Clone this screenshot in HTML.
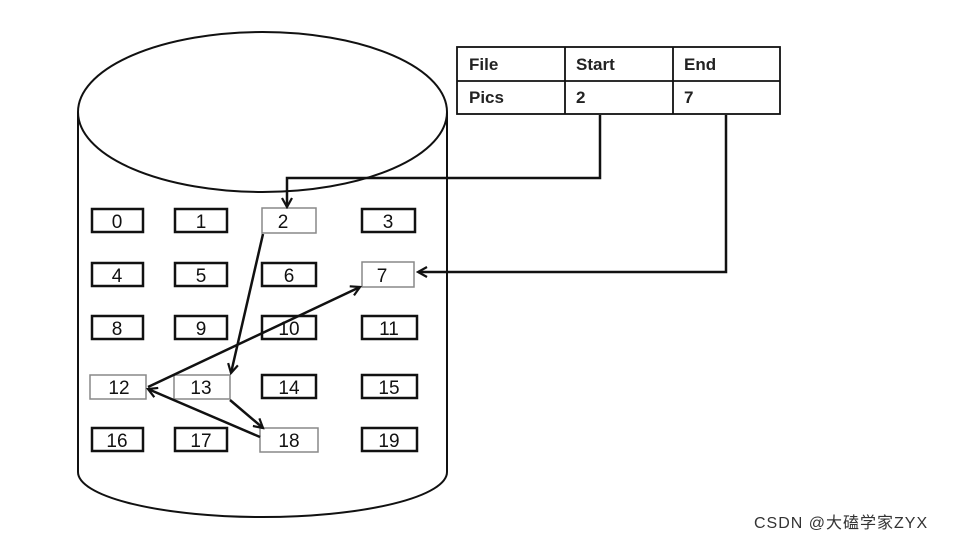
<!DOCTYPE html>
<html><head><style>body{margin:0;background:#fff}svg{display:block}</style></head><body>
<svg width="954" height="541" viewBox="0 0 954 541" xmlns="http://www.w3.org/2000/svg" font-family="Liberation Sans, sans-serif">
<defs><marker id="a" markerWidth="12" markerHeight="12" refX="10" refY="6" orient="auto" markerUnits="userSpaceOnUse"><path d="M1,1 L10,6 L1,11" fill="none" stroke="#111" stroke-width="2.2"/></marker></defs>
<g fill="none" stroke="#111" stroke-width="2">
<path d="M78,112 L78,472 A184.5,45 0 0 0 447,472 L447,112"/>
<ellipse cx="262.5" cy="112" rx="184.5" ry="80"/>
</g>
<g stroke="#111" stroke-width="2.5" fill="#fff">
<rect x="92" y="209" width="51" height="23"/><rect x="175" y="209" width="52" height="23"/><rect x="362" y="209" width="53" height="23"/>
<rect x="92" y="263" width="51" height="23"/><rect x="175" y="263" width="52" height="23"/><rect x="262" y="263" width="54" height="23"/>
<rect x="92" y="316" width="51" height="23"/><rect x="175" y="316" width="52" height="23"/><rect x="262" y="316" width="54" height="23"/><rect x="362" y="316" width="55" height="23"/>
<rect x="262" y="375" width="54" height="23"/><rect x="362" y="375" width="55" height="23"/>
<rect x="92" y="428" width="51" height="23"/><rect x="175" y="428" width="52" height="23"/><rect x="362" y="428" width="55" height="23"/>
</g>
<g stroke="#888" stroke-width="1.5" fill="#fff">
<rect x="262" y="208" width="54" height="25"/><rect x="362" y="262" width="52" height="25"/>
<rect x="90" y="375" width="56" height="24"/><rect x="174" y="375" width="56" height="24"/><rect x="260" y="428" width="58" height="24"/>
</g>
<g font-size="19" text-anchor="middle" fill="#111">
<text x="117" y="228">0</text><text x="201" y="228">1</text><text x="283" y="228">2</text><text x="388" y="228">3</text>
<text x="117" y="282">4</text><text x="201" y="282">5</text><text x="289" y="282">6</text><text x="382" y="282">7</text>
<text x="117" y="335">8</text><text x="201" y="335">9</text><text x="289" y="335">10</text><text x="389" y="335">11</text>
<text x="119" y="394">12</text><text x="201" y="394">13</text><text x="289" y="394">14</text><text x="389" y="394">15</text>
<text x="117" y="447">16</text><text x="201" y="447">17</text><text x="289" y="447">18</text><text x="389" y="447">19</text>
</g>
<g stroke="#111" stroke-width="1.8" fill="none">
<rect x="457" y="47" width="323" height="67"/>
<line x1="457" y1="81" x2="780" y2="81"/><line x1="565" y1="47" x2="565" y2="114"/><line x1="673" y1="47" x2="673" y2="114"/>
</g>
<g font-size="17" font-weight="bold" fill="#222">
<text x="469" y="70">File</text><text x="576" y="70">Start</text><text x="684" y="70">End</text>
<text x="469" y="103">Pics</text><text x="576" y="103">2</text><text x="684" y="103">7</text>
</g>
<g stroke="#111" stroke-width="2.5" fill="none" marker-end="url(#a)">
<path d="M600,115 L600,178 L287,178 L287,207"/>
<path d="M726,115 L726,272 L418,272"/>
<path d="M263,234 L231,373"/>
<path d="M148,387 L360,287"/>
<path d="M230,400 L263,428"/>
<path d="M260,437 L148,389"/>
</g>
<text x="754" y="528" font-size="16" letter-spacing="1" fill="#333" font-family="Liberation Sans, Noto Sans CJK SC, sans-serif">CSDN @大磕学家ZYX</text>
</svg>
</body></html>
